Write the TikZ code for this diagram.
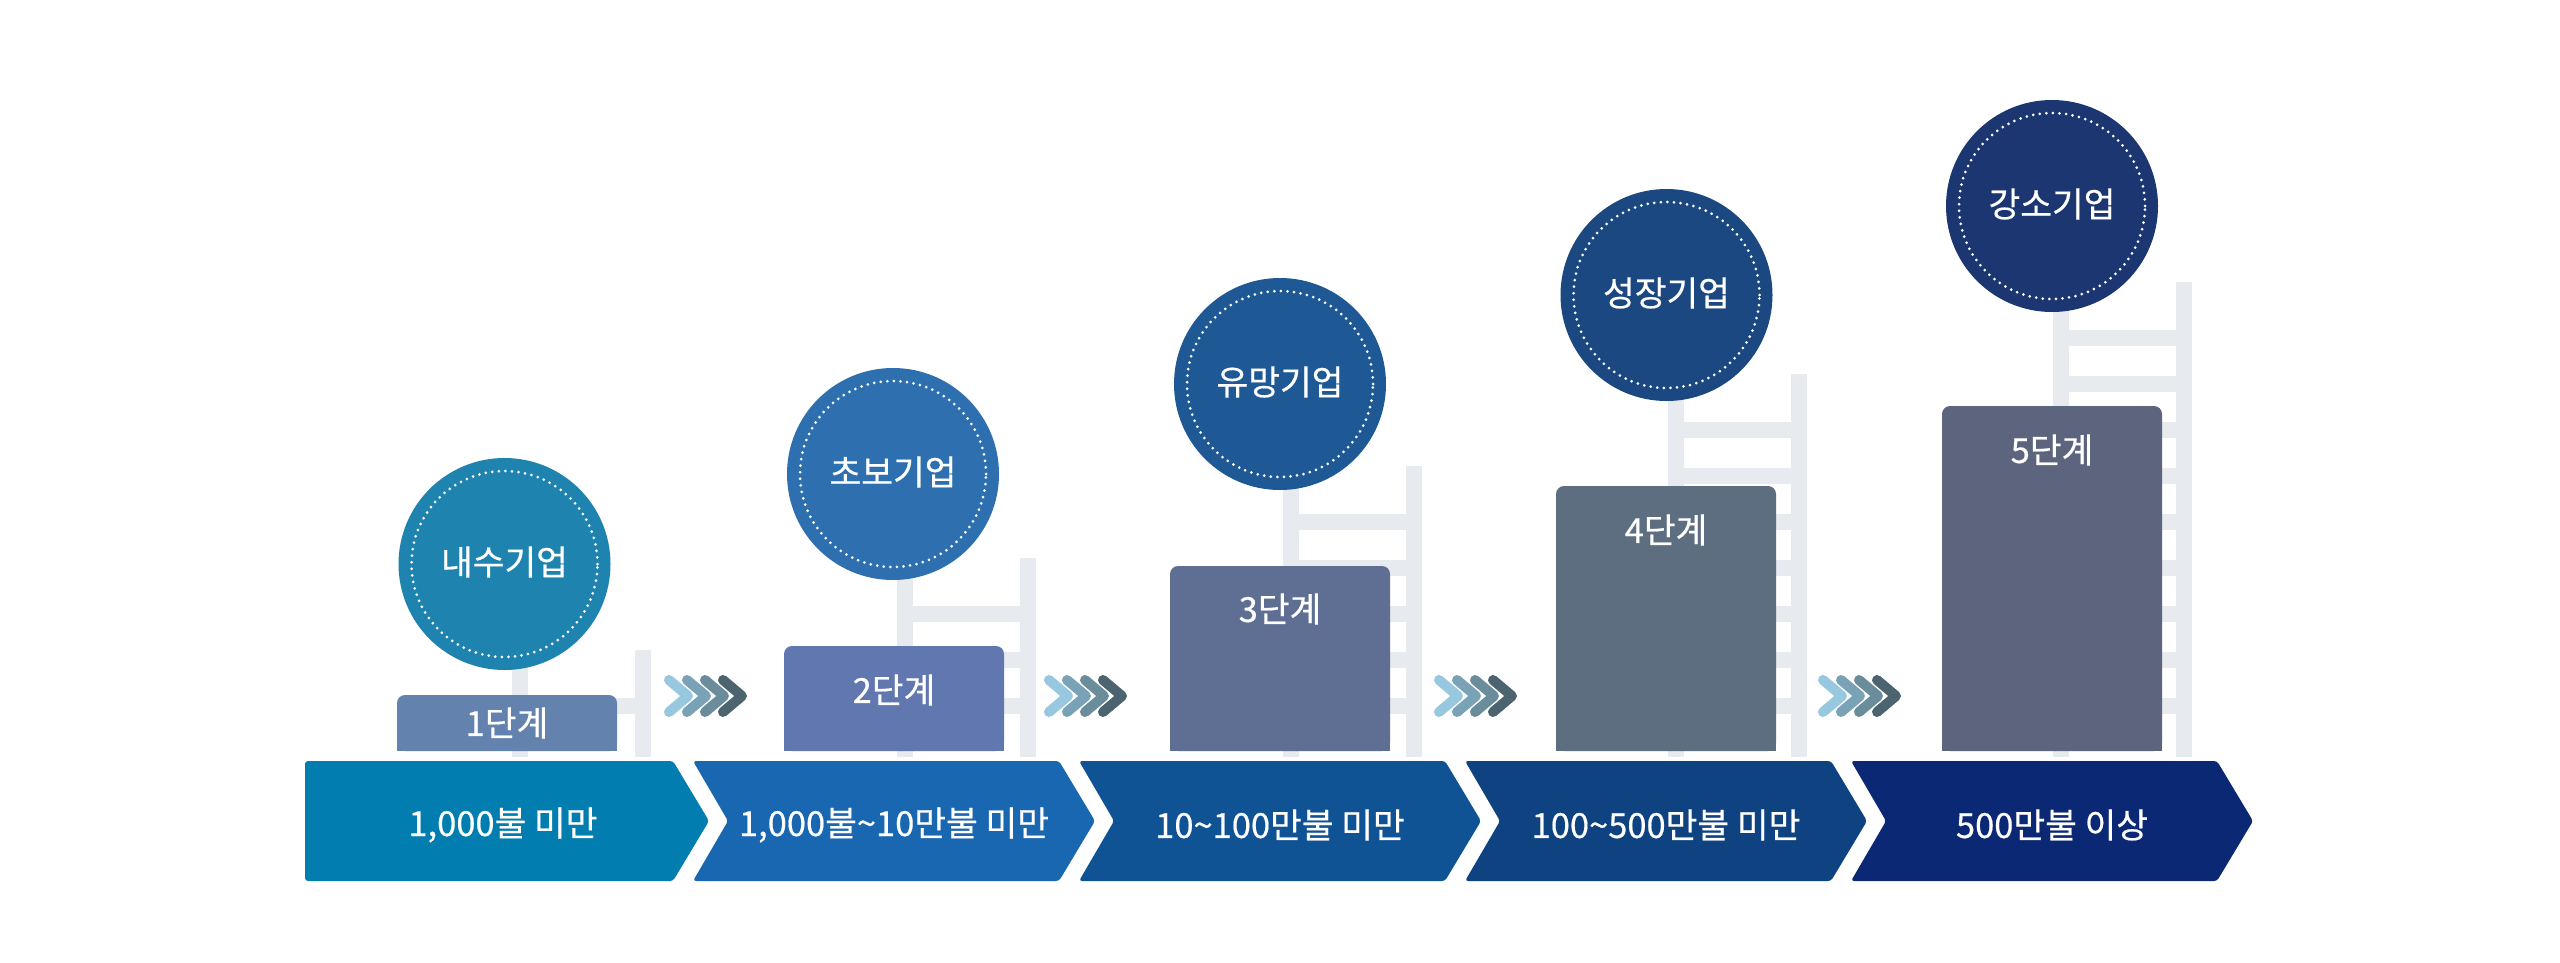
\documentclass[tikz,border=0pt]{standalone}
\usepackage{fontspec}
\newfontfamily\kr[FakeBold=0.5]{Noto Sans CJK KR}
\definecolor{ladder}{HTML}{E7EAEE}
\definecolor{band1}{HTML}{017DB0}
\definecolor{band2}{HTML}{1966B1}
\definecolor{band3}{HTML}{105395}
\definecolor{band4}{HTML}{0F4280}
\definecolor{band5}{HTML}{0A2873}
\definecolor{cir1}{HTML}{1F83B0}
\definecolor{cir2}{HTML}{2E70AF}
\definecolor{cir3}{HTML}{1F5995}
\definecolor{cir4}{HTML}{1B4880}
\definecolor{cir5}{HTML}{1B3671}
\definecolor{box1}{HTML}{6383AE}
\definecolor{box2}{HTML}{6177AF}
\definecolor{box3}{HTML}{5F6F93}
\definecolor{box4}{HTML}{5E6E81}
\definecolor{box5}{HTML}{5C657D}
\definecolor{ch1}{HTML}{98C8E0}
\definecolor{ch2}{HTML}{79A2B6}
\definecolor{ch3}{HTML}{6A8C9B}
\definecolor{ch4}{HTML}{4B6470}
\begin{document}
\begin{tikzpicture}[x=1pt,y=-1pt,
  lbl/.style={text=white,font=\kr\fontsize{34.5}{34.5}\selectfont,inner sep=0pt},
  dotring/.style={draw=white,line width=3pt,dash pattern=on 0pt off 6.6pt,line cap=round},
  chev/.style={line width=10pt,line cap=round,line join=round}]
\useasboundingbox[fill=white] (0,0) rectangle (2560,962);

% ladders
\foreach \i in {0,...,4}{
  \pgfmathsetmacro\lx{512+385.25*\i}
  \pgfmathsetmacro\rt{650-92*\i}
  \fill[ladder] (\lx,\rt) rectangle (\lx+16,757);
  \fill[ladder] (\lx+123,\rt) rectangle (\lx+139,757);
  \pgfmathtruncatemacro\n{2*\i}
  \foreach \k in {0,...,\n}{
    \fill[ladder] (\lx+16,698-46*\k) rectangle (\lx+123,714-46*\k);
  }
}

% circles
\foreach \cx/\cy/\col/\t/\nm in {504.5/564/cir1/내수기업/c1, 893/474/cir2/초보기업/c2, 1280/384/cir3/유망기업/c3, 1666.5/295/cir4/성장기업/c4, 2052/206/cir5/강소기업/c5}{
  \fill[\col] (\cx,\cy) circle[radius=106pt];
  \draw[dotring] (\cx,\cy) circle[radius=93pt];
  \node[lbl] (\nm) at (\cx,\cy-2) {\t};
}

% stage boxes
\foreach \bx/\bt/\col/\ty/\t/\nm in {397/695/box1/723/1단계/s1, 784/646/box2/690/2단계/s2, 1170/566/box3/609/3단계/s3, 1556/486/box4/530/4단계/s4, 1942/406/box5/450/5단계/s5}{
  \fill[\col, rounded corners=8pt] (\bx,\bt) rectangle (\bx+220,751);
  \fill[\col] (\bx,\bt+20) rectangle (\bx+220,751);
  \node[lbl] (\nm) at (\bx+110,\ty) {\t};
}

% chevron groups
\foreach \X in {664,1044,1434,1818}{
  \foreach \k/\col in {0/ch1,1/ch2,2/ch3,3/ch4}{
    \draw[chev,\col] (\X+18*\k+5,680) -- (\X+18*\k+24,696) -- (\X+18*\k+5,712);
  }
}

% bands
\fill[band1, rounded corners=3pt] (305,761) -- (673,761) -- (709,821) -- (673,881) -- (305,881) -- cycle;
\foreach \i/\col in {1/band2,2/band3,3/band4,4/band5}{
  \pgfmathsetmacro\L{307+386*\i}
  \fill[\col, rounded corners=3pt] (\L,761) -- (\L+366,761) -- (\L+402,821) -- (\L+366,881) -- (\L,881) -- (\L+35,821) -- cycle;
}
\node[lbl] (b1) at (503,825) {1,000불 미만};
\node[lbl] (b2) at (894,825) {1,000불\textasciitilde 10만불 미만};
\node[lbl] (b3) at (1280,825) {10\textasciitilde 100만불 미만};
\node[lbl] (b4) at (1666,825) {100\textasciitilde 500만불 미만};
\node[lbl] (b5) at (2052,825) {500만불 이상};
\end{tikzpicture}
\end{document}
